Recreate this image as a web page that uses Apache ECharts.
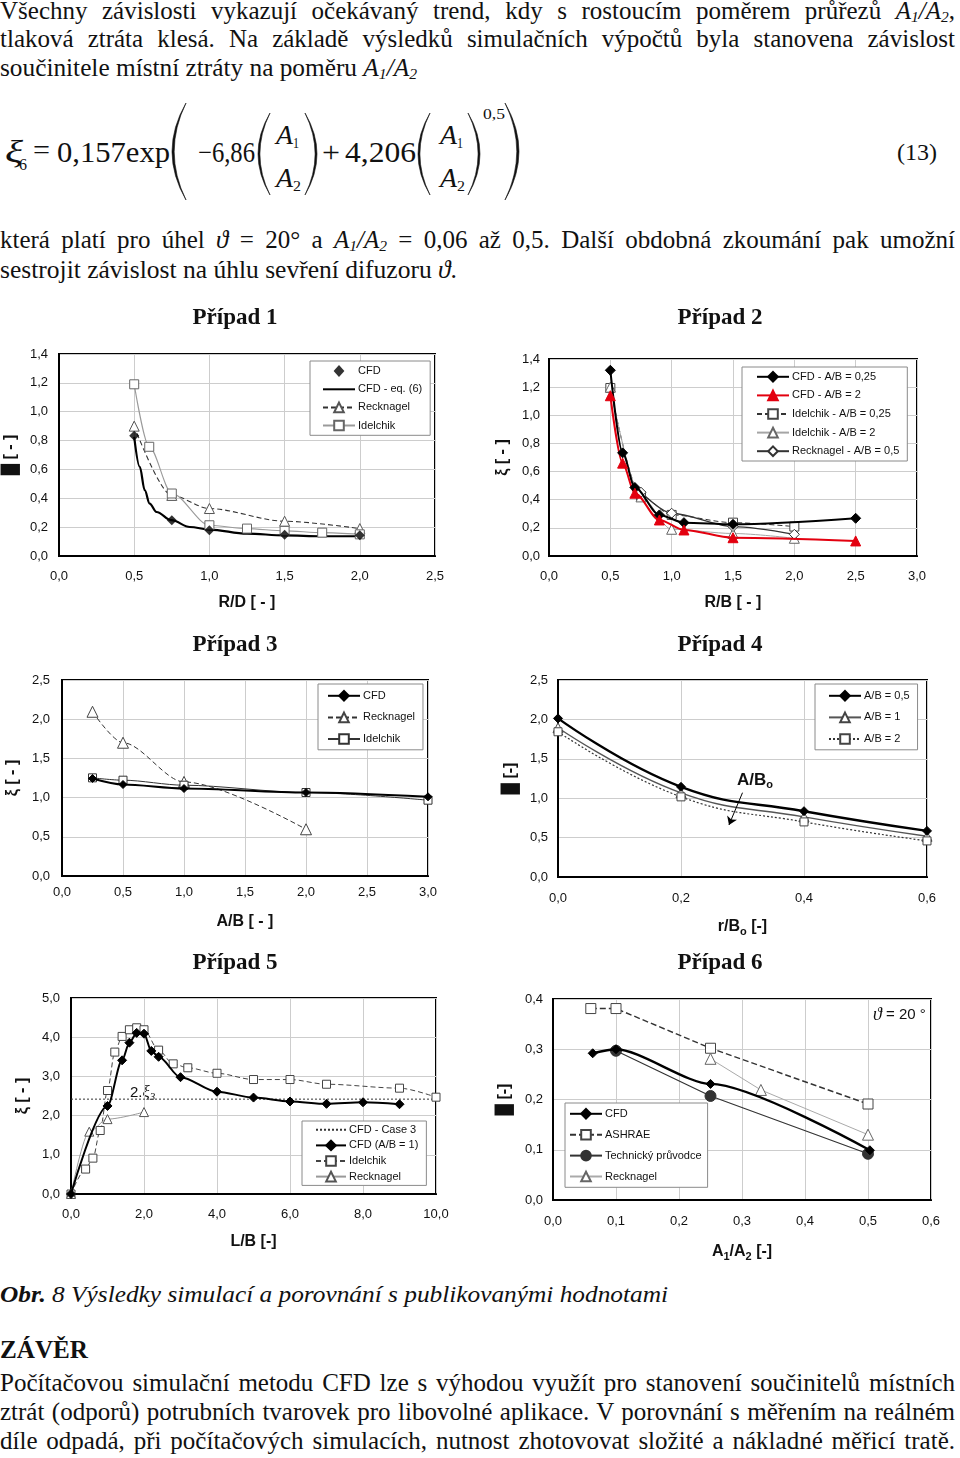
<!DOCTYPE html>
<html><head><meta charset="utf-8">
<script src="https://cdn.jsdelivr.net/npm/echarts@6/dist/echarts.min.js"></script>
<style>
html,body{margin:0;padding:0;background:#fff}
body{width:960px;height:1458px;position:relative;overflow:hidden;font-family:'Liberation Serif','Times New Roman',serif;color:#111}
.ln{position:absolute;white-space:nowrap;line-height:1;transform-origin:0 0}
.ln sub{font-size:0.62em;line-height:0;vertical-align:-0.22em}
.ch{position:absolute;width:480px;height:320px}
svg.eq{position:absolute;left:0;top:0}
</style>
</head><body>

<!-- body text -->
<div class="ln" data-x="0" data-b="18.5" data-fs="25" data-w="955" data-j="1">Všechny závislosti vykazují očekávaný trend, kdy s&nbsp;rostoucím poměrem průřezů <i>A<sub>1</sub>/A<sub>2</sub></i>,</div>
<div class="ln" data-x="0" data-b="47" data-fs="25" data-w="955" data-j="1">tlaková ztráta klesá. Na základě výsledků simulačních výpočtů byla stanovena závislost</div>
<div class="ln" data-x="0" data-b="75.5" data-fs="25" data-w="417" data-j="0">součinitele místní ztráty na poměru <i>A<sub>1</sub>/A<sub>2</sub></i></div>

<!-- equation (13) -->
<svg class="eq" width="960" height="300" id="eqsvg"></svg>
<div class="ln" data-x="5" data-b="162" data-fs="32" data-w="18" data-j="0"><i>ξ</i></div>
<div class="ln" data-x="19" data-b="170" data-fs="16" data-w="8" data-j="0">6</div>
<div class="ln" data-x="33" data-b="160" data-fs="27" data-w="17" data-j="0">=</div>
<div class="ln" data-x="57" data-b="162" data-fs="29" data-w="113" data-j="0">0,157exp</div>
<div class="ln" data-x="198" data-b="162" data-fs="29" data-w="57" data-j="0">−6,86</div>
<div class="ln" data-x="276" data-b="144" data-fs="28" data-w="17" data-j="0"><i>A</i></div>
<div class="ln" data-x="293" data-b="149" data-fs="15" data-w="6" data-j="0">1</div>
<div class="ln" data-x="276" data-b="187" data-fs="28" data-w="17" data-j="0"><i>A</i></div>
<div class="ln" data-x="293" data-b="192" data-fs="15" data-w="8" data-j="0">2</div>
<div class="ln" data-x="322" data-b="162" data-fs="29" data-w="18" data-j="0">+</div>
<div class="ln" data-x="345" data-b="162" data-fs="29" data-w="71" data-j="0">4,206</div>
<div class="ln" data-x="440" data-b="144" data-fs="28" data-w="17" data-j="0"><i>A</i></div>
<div class="ln" data-x="457" data-b="149" data-fs="15" data-w="6" data-j="0">1</div>
<div class="ln" data-x="440" data-b="187" data-fs="28" data-w="17" data-j="0"><i>A</i></div>
<div class="ln" data-x="457" data-b="192" data-fs="15" data-w="8" data-j="0">2</div>
<div class="ln" data-x="483" data-b="120" data-fs="15" data-w="22" data-j="0">0,5</div>
<div class="ln" data-x="897" data-b="160" data-fs="24" data-w="40" data-j="0">(13)</div>

<div class="ln" data-x="0" data-b="247.5" data-fs="25" data-w="955" data-j="1">která platí pro úhel <i>ϑ</i> = 20° a <i>A<sub>1</sub>/A<sub>2</sub></i> = 0,06 až 0,5. Další obdobná zkoumání pak umožní</div>
<div class="ln" data-x="0" data-b="277.5" data-fs="25" data-w="457" data-j="0">sestrojit závislost na úhlu sevření difuzoru <i>ϑ</i>.</div>

<div class="ch" id="c1" style="left:0;top:300px"></div>
<div class="ch" id="c2" style="left:480px;top:300px"></div>
<div class="ch" id="c3" style="left:0;top:625px"></div>
<div class="ch" id="c4" style="left:480px;top:625px"></div>
<div class="ch" id="c5" style="left:0;top:945px"></div>
<div class="ch" id="c6" style="left:480px;top:945px"></div>

<div class="ln" data-x="0" data-b="1302.5" data-fs="24" data-w="668" data-j="0"><b><i>Obr.</i></b><i> 8 Výsledky simulací a porovnání s publikovanými hodnotami</i></div>
<div class="ln" data-x="0" data-b="1358" data-fs="25" data-w="88" data-j="0"><b>ZÁVĚR</b></div>
<div class="ln" data-x="0" data-b="1390.5" data-fs="25" data-w="955" data-j="1">Počítačovou simulační metodu CFD lze s výhodou využít pro stanovení součinitelů místních</div>
<div class="ln" data-x="0" data-b="1419.5" data-fs="25" data-w="955" data-j="1">ztrát (odporů) potrubních tvarovek pro libovolné aplikace. V porovnání s měřením na reálném</div>
<div class="ln" data-x="0" data-b="1448.5" data-fs="25" data-w="955" data-j="1">díle odpadá, při počítačových simulacích, nutnost zhotovovat složité a nákladné měřicí tratě.</div>

<script>
// ================= DATA =================
// Případ 1 : R/D vs xi
const c1Cfd  = [[0.5,0.833],[0.75,0.248],[1.0,0.178],[1.5,0.148],[2.0,0.143]];
const c1Eq6  = [[0.5,0.826],[0.537,0.618],[0.57,0.456],[0.603,0.363],[0.648,0.305],[0.748,0.248],[0.87,0.201],[1.0,0.183],[1.25,0.155],[1.5,0.143],[1.75,0.137],[2.0,0.137]];
const c1Reck = [[0.5,0.9],[0.75,0.42],[1.0,0.329],[1.5,0.241],[2.0,0.19]];
const c1Idel = [[0.5,1.19],[0.6,0.757],[0.75,0.433],[1.0,0.213],[1.25,0.19],[1.5,0.174],[1.75,0.162],[2.0,0.15]];
// Případ 2 : R/B vs xi
const c2Cfd025  = [[0.5,1.32],[0.6,0.733],[0.7,0.487],[0.9,0.292],[1.1,0.237],[1.5,0.225],[2.5,0.268]];
const c2Cfd2    = [[0.5,1.139],[0.6,0.66],[0.7,0.446],[0.9,0.256],[1.1,0.185],[1.5,0.13],[2.5,0.107]];
const c2Idel025 = [[0.5,1.194],[0.75,0.425],[1.0,0.292],[1.5,0.237],[2.0,0.209]];
const c2Idel2   = [[0.5,1.2],[0.75,0.42],[1.0,0.19],[1.5,0.16],[2.0,0.126]];
const c2Reck05  = [[0.75,0.453],[1.0,0.304],[1.5,0.209],[2.0,0.154]];
// Případ 3 : A/B vs xi
const c3Cfd  = [[0.25,1.244],[0.5,1.167],[1.0,1.116],[2.0,1.065],[3.0,1.01]];
const c3Reck = [[0.25,2.095],[0.5,1.7],[1.0,1.2],[2.0,0.596]];
const c3Idel = [[0.25,1.252],[0.5,1.222],[1.0,1.158],[2.0,1.065],[3.0,0.967]];
// Případ 4 : r/Bo vs xi
const c4Ab05 = [[0,2.013],[0.2,1.144],[0.4,0.835],[0.6,0.585]];
const c4Ab1  = [[0,1.894],[0.2,1.068],[0.4,0.763],[0.6,0.517]];
const c4Ab2  = [[0,1.843],[0.2,1.017],[0.4,0.699],[0.6,0.458]];
// Případ 5 : L/B vs xi
const c5Case3 = [[0,2.42],[10,2.42]];
const c5Cfd  = [[0,0],[1.0,2.246],[1.4,3.41],[1.6,3.86],[1.8,4.11],[2.0,4.09],[2.2,3.65],[2.4,3.5],[3.0,2.98],[4.0,2.61],[5.0,2.46],[6.0,2.36],[7.0,2.3],[8.0,2.34],[9.0,2.29]];
const c5Idel = [[0,0],[0.4,0.636],[0.6,0.915],[0.8,1.62],[1.0,2.64],[1.2,3.62],[1.4,4.02],[1.6,4.19],[1.8,4.24],[2.0,4.19],[2.4,3.67],[2.8,3.32],[3.2,3.22],[4.0,3.08],[5.0,2.92],[6.0,2.92],[7.0,2.8],[9.0,2.7],[10.0,2.47]];
const c5Reck = [[0,0],[0.5,1.59],[1.0,1.91],[2.0,2.09]];
// Případ 6 : A1/A2 vs xi
const c6Cfd    = [[0.063,0.292],[0.1,0.3],[0.25,0.231],[0.503,0.099]];
const c6Ashrae = [[0.06,0.381],[0.1,0.381],[0.25,0.302],[0.5,0.191]];
const c6Tech   = [[0.1,0.297],[0.25,0.207],[0.5,0.092]];
const c6Reck   = [[0.25,0.281],[0.33,0.219],[0.5,0.13]];

// ================= TEXT LAYOUT =================
document.querySelectorAll('.ln').forEach(el=>{
  const fs=+el.dataset.fs;
  el.style.fontSize=fs+'px';
  el.style.left=el.dataset.x+'px';
  el.style.top=(+el.dataset.b-0.8375*fs)+'px';
});
document.querySelectorAll('.ln').forEach(el=>{
  const w=+el.dataset.w, j=el.dataset.j==='1';
  const nat=el.getBoundingClientRect().width;
  if(j && nat<w){
    const n=(el.textContent.match(/[ \u00a0]/g)||[]).length;
    if(n>0) el.style.wordSpacing=((w-nat)/n)+'px';
  } else {
    el.style.transform='scaleX('+(w/nat)+')';
  }
});
// parentheses
(function(){
  const svg=document.getElementById('eqsvg');
  function paren(x0,x1,y0,y1,left,t){
    const ym=(y0+y1)/2; let d;
    if(left){
      const c1=2*x0-x1, c2=2*(x0+t)-x1;
      d=`M${x1} ${y0} Q${c1} ${ym} ${x1} ${y1} Q${c2} ${ym} ${x1} ${y0} Z`;
    } else {
      const c1=2*x1-x0, c2=2*(x1-t)-x0;
      d=`M${x0} ${y0} Q${c1} ${ym} ${x0} ${y1} Q${c2} ${ym} ${x0} ${y0} Z`;
    }
    const p=document.createElementNS('http://www.w3.org/2000/svg','path');
    p.setAttribute('d',d);p.setAttribute('fill','#111');p.setAttribute('stroke','#111');p.setAttribute('stroke-width','0.6');
    svg.appendChild(p);
  }
  paren(172,186,103,200,true,2.2);
  paren(505,519,103,200,false,2.2);
  paren(258,270,113,195,true,1.9);
  paren(305,317,113,195,false,1.9);
  paren(418,430,113,195,true,1.9);
  paren(468,480,113,195,false,1.9);
})();

// ================= CHARTS =================
const SANS="'Liberation Sans', Arial, sans-serif";
const fmt=v=>v.toFixed(1).replace('.',',');
const nameStyle={fontFamily:SANS,fontWeight:'bold',fontSize:16,color:'#111'};
const ICON_DIAMOND='path://M4.5 0L9 5L4.5 10L0 5Z';
const NO_SYMBOL={itemStyle:{opacity:0}};
function subRich(){return {
  a:{fontFamily:SANS,fontWeight:'bold',fontSize:16,color:'#111'},
  s:{fontFamily:SANS,fontWeight:'bold',fontSize:11,color:'#111',padding:[9,0,0,0]}
};}
function axis(min,max,interval,name,gap,margin,isY,rich){
  const ns=Object.assign({},nameStyle); if(rich) ns.rich=rich;
  return {type:'value',min,max,interval,name,nameLocation:'middle',nameGap:gap,
    nameRotate:isY?90:0,nameTextStyle:ns,
    axisLine:{show:true,onZero:false,lineStyle:{color:'#000',width:2}},
    axisTick:{show:false},
    splitLine:{show:true,lineStyle:{color:'#cdcdcd',width:1}},
    axisLabel:{formatter:fmt,color:'#111',fontFamily:SANS,fontSize:13,margin}};
}
function grid(l,t,w,h){return {left:l,top:t,width:w,height:h,show:true,borderColor:'#000',borderWidth:2,backgroundColor:'#fff',outerBoundsMode:'none',containLabel:false};}
function legend(names,l,t,pad,gap,iw){return {show:true,orient:'vertical',left:l,top:t,data:names,padding:pad,itemGap:gap,
  itemWidth:iw||32,itemHeight:12,backgroundColor:'#fff',borderColor:'#8a8a8a',borderWidth:1,selectedMode:false,
  textStyle:{fontFamily:SANS,fontSize:11,color:'#111',padding:[0,0,0,-2]}};}
function title(x,y,t){return {type:'text',x,y,style:{text:t,font:"bold 23px 'Liberation Serif'",fill:'#111',align:'center',verticalAlign:'middle'}};}
function ln(name,data,o){
  const s={name,type:'line',data,smooth:0.3,smoothMonotone:'x',symbolSize:8,animation:false,
    lineStyle:{color:o.lc,width:o.lw,type:o.lt||'solid'},
    symbol:o.sym||'none',
    itemStyle:{color:o.fill||o.lc,borderColor:o.bc||o.lc,borderWidth:o.bw==null?1:o.bw}};
  if(o.size) s.symbolSize=o.size;
  if(o.smooth!=null) s.smooth=o.smooth;
  if(o.mono===false) delete s.smoothMonotone;
  if(o.z) s.z=o.z;
  return s;
}
const init=id=>echarts.init(document.getElementById(id),null,{renderer:'canvas'});

// ---- Případ 1
init('c1').setOption({animation:false,
  grid:grid(59,54,376,202),
  xAxis:axis(0,2.5,0.5,'R/D [ - ]',39,14,false),
  yAxis:axis(0,1.4,0.2,'█ [ - ]',40,11,true),
  legend:legend([{name:'CFD',icon:ICON_DIAMOND},Object.assign({name:'CFD - eq. (6)'},NO_SYMBOL),'Recknagel','Idelchik'],310,61,[4,8,4,12],6.5),
  graphic:[title(235,18,'Případ 1')],
  series:[
    ln('CFD - eq. (6)',c1Eq6,{lc:'#000',lw:2.2,smooth:0.35}),
    ln('Recknagel',c1Reck,{lc:'#333',lw:1.1,lt:[5,3],sym:'triangle',fill:'#fff',bc:'#555',size:10}),
    ln('Idelchik',c1Idel,{lc:'#9a9a9a',lw:1.1,sym:'rect',fill:'#fff',bc:'#666',size:9}),
    {name:'CFD',type:'scatter',data:c1Cfd,symbol:'diamond',symbolSize:10,itemStyle:{color:'#000'},z:5}
  ]});

// ---- Případ 2
init('c2').setOption({animation:false,
  grid:grid(69,59,368,197),
  xAxis:axis(0,3,0.5,'R/B [ - ]',39,14,false),
  yAxis:axis(0,1.4,0.2,'ξ [ - ]',36,9,true),
  legend:legend(['CFD - A/B = 0,25','CFD - A/B = 2','Idelchik - A/B = 0,25','Idelchik - A/B = 2','Recknagel - A/B = 0,5'],262,67,[4,8,4,14],7),
  graphic:[title(240,18,'Případ 2')],
  series:[
    ln('CFD - A/B = 0,25',c2Cfd025,{lc:'#000',lw:2,sym:'diamond',size:10,z:4}),
    ln('CFD - A/B = 2',c2Cfd2,{lc:'#e3000f',lw:2,sym:'triangle',size:10,z:4}),
    ln('Idelchik - A/B = 0,25',c2Idel025,{lc:'#333',lw:1,lt:[5,3],sym:'rect',fill:'#fff',bc:'#444',size:9}),
    ln('Idelchik - A/B = 2',c2Idel2,{lc:'#a5a5a5',lw:1,sym:'triangle',fill:'#fff',bc:'#666',size:10}),
    ln('Recknagel - A/B = 0,5',c2Reck05,{lc:'#333',lw:1.4,sym:'diamond',fill:'#fff',bc:'#333',size:10})
  ]});

// ---- Případ 3
init('c3').setOption({animation:false,
  grid:grid(62,55,366,196),
  xAxis:axis(0,3,0.5,'A/B [ - ]',38,10,false),
  yAxis:axis(0,2.5,0.5,'ξ [ - ]',37,12,true),
  legend:legend(['CFD','Recknagel','Idelchik'],318,59,[6,8,5,9],10),
  graphic:[title(235,20,'Případ 3')],
  series:[
    ln('CFD',c3Cfd,{lc:'#000',lw:2,sym:'diamond',size:8,z:4}),
    ln('Recknagel',c3Reck,{lc:'#333',lw:1,lt:[5,3],sym:'triangle',fill:'#fff',bc:'#444',size:11}),
    ln('Idelchik',c3Idel,{lc:'#333',lw:1,sym:'rect',fill:'#fff',bc:'#333',size:8})
  ]});

// ---- Případ 4
init('c4').setOption({animation:false,
  grid:grid(78,55,369,197),
  xAxis:axis(0,0.6,0.2,'{a|r/B}{s|o}{a| [-]}',40,15,false,subRich()),
  yAxis:axis(0,2.5,0.5,'█ [-]',39,10,true),
  legend:legend(['A/B = 0,5','A/B = 1','A/B = 2'],335,59,[6,8,5,13],10),
  graphic:[title(240,20,'Případ 4'),
    {type:'text',x:257,y:155,style:{text:'{a|A/B}{s|o}',verticalAlign:'middle',rich:{
      a:{font:"bold 17px 'Liberation Sans'",fill:'#111'},
      s:{font:"bold 11px 'Liberation Sans'",fill:'#111',padding:[10,0,0,0]}}}}],
  series:[
    ln('A/B = 0,5',c4Ab05,{lc:'#000',lw:2.4,sym:'diamond',size:9,z:4,smooth:0.45,mono:false}),
    ln('A/B = 1',c4Ab1,{lc:'#555',lw:1.4,sym:'triangle',fill:'#fff',bc:'#444',size:10,smooth:0.45,mono:false}),
    Object.assign(ln('A/B = 2',c4Ab2,{lc:'#333',lw:1.2,lt:[2,2],sym:'rect',fill:'#fff',bc:'#444',size:8,smooth:0.45,mono:false}),{
      markLine:{silent:true,animation:false,symbol:['none','arrow'],symbolSize:8,
        lineStyle:{color:'#000',width:1,type:'solid'},label:{show:false},
        data:[[{coord:[0.3,1.07]},{coord:[0.278,0.66]}]]}})
  ]});

// ---- Případ 5
init('c5').setOption({animation:false,
  grid:grid(71,53,365,196),
  xAxis:axis(0,10,2,'L/B [-]',40,14,false),
  yAxis:axis(0,5,1,'ξ [ - ]',36,11,true),
  legend:legend([Object.assign({name:'CFD - Case 3'},NO_SYMBOL),'CFD (A/B = 1)','Idelchik','Recknagel'],302,176,[3,8,3,13],4,30),
  graphic:[title(235,18,'Případ 5'),
    {type:'text',x:130,y:148,style:{text:'{a|2.}{x|ξ}{s|3}',verticalAlign:'middle',rich:{
      a:{font:"15px 'Liberation Sans'",fill:'#111'},
      x:{font:"italic 17px 'Liberation Serif'",fill:'#111'},
      s:{font:"italic 11px 'Liberation Serif'",fill:'#111',padding:[9,0,0,0]}}}}],
  series:[
    ln('CFD - Case 3',c5Case3,{lc:'#333',lw:1,lt:[2,2],smooth:false}),
    ln('CFD (A/B = 1)',c5Cfd,{lc:'#000',lw:2,sym:'diamond',size:9,z:4}),
    ln('Idelchik',c5Idel,{lc:'#444',lw:1,lt:[5,3],sym:'rect',fill:'#fff',bc:'#444',size:8}),
    ln('Recknagel',c5Reck,{lc:'#999',lw:1,sym:'triangle',fill:'#fff',bc:'#555',size:9})
  ]});

// ---- Případ 6
init('c6').setOption({animation:false,
  grid:grid(73,54,378,201),
  xAxis:axis(0,0.6,0.1,'{a|A}{s|1}{a|/A}{s|2}{a| [-]}',42,15,false,subRich()),
  yAxis:axis(0,0.4,0.1,'█ [-]',40,10,true),
  legend:legend(['CFD','ASHRAE','Technický průvodce','Recknagel'],85,158,[5,6,5,4],9.3),
  graphic:[title(240,18,'Případ 6'),
    {type:'text',x:393,y:70,style:{text:'{t|ϑ}{a| = 20 °}',verticalAlign:'middle',rich:{
      t:{font:"italic 18px 'Liberation Serif'",fill:'#111'},
      a:{font:"15px 'Liberation Sans'",fill:'#111'}}}}],
  series:[
    ln('CFD',c6Cfd,{lc:'#000',lw:2.4,sym:'diamond',size:9,z:4,smooth:0.25}),
    ln('ASHRAE',c6Ashrae,{lc:'#333',lw:1.4,lt:[6,3],sym:'rect',fill:'#fff',bc:'#444',size:10,smooth:false}),
    ln('Technický průvodce',c6Tech,{lc:'#333',lw:1.2,sym:'circle',size:11,smooth:false}),
    ln('Recknagel',c6Reck,{lc:'#aaa',lw:1,sym:'triangle',fill:'#fff',bc:'#666',size:11,smooth:false})
  ]});
</script>
</body></html>
